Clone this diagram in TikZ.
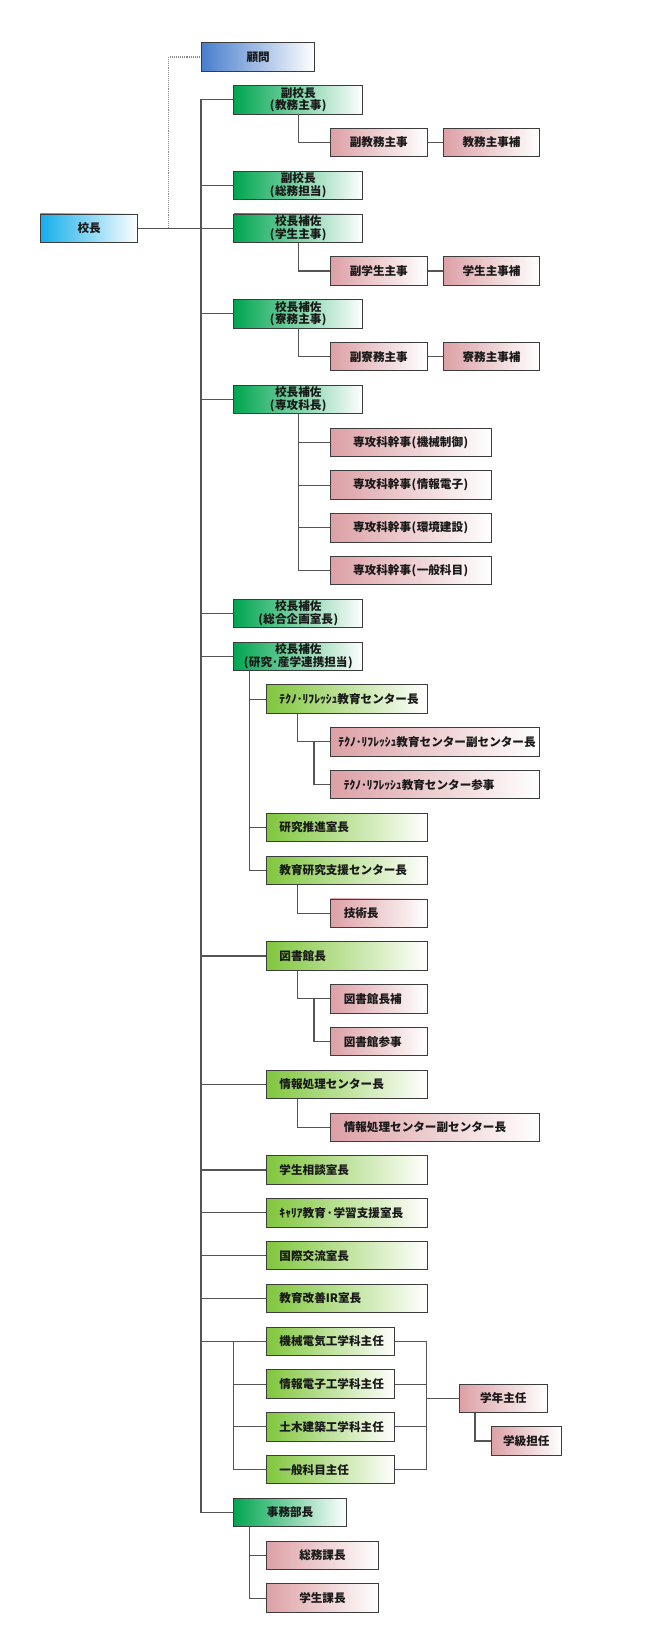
\documentclass[tikz,border=0pt]{standalone}
\usepackage{fontspec}
\setmainfont{Noto Sans CJK JP}
\definecolor{cyanb}{RGB}{20,174,234}
\definecolor{blueb}{RGB}{72,126,204}
\definecolor{dkgreen}{RGB}{0,166,80}
\definecolor{ltgreen}{RGB}{128,198,60}
\definecolor{pinkb}{RGB}{220,160,165}
\definecolor{bordercol}{RGB}{60,60,60}
\definecolor{linecol}{RGB}{85,85,85}
\tikzset{
  box/.style={draw=bordercol, line width=0.9pt, minimum height=28.4pt, inner sep=0pt,
    anchor=north west, right color=white, text=black!90,
    font=\bfseries\fontsize{11.6}{12.6}\selectfont},
  cbox/.style={box, align=center, minimum width=#1},
  lbox/.style={box, align=left, inner xsep=13.3pt, text width=#1-26.6pt},
  kbox/.style={cbox=#1, left color=cyanb},
  bbox/.style={cbox=#1, left color=blueb},
  dgbox/.style={cbox=#1, left color=dkgreen},
  lgbox/.style={lbox=#1, left color=ltgreen},
  pkbox/.style={cbox=#1, left color=pinkb},
  pklbox/.style={lbox=#1, left color=pinkb},
  conn/.style={draw=linecol, line width=1.1pt},
  dotline/.style={draw=gray!90, line width=1.1pt, densely dotted},
}
\newcommand{\T}[1]{42.3+42.81*#1}
\newcommand{\lp}{\kern0.5pt(\kern0.5pt}
\newcommand{\rp}{\kern0.5pt)\kern0.5pt}
\begin{document}
\begin{tikzpicture}[x=1pt,y=-1pt]
\useasboundingbox (0,0) rectangle (660,1633);
% nodes
\node[kbox=97.3pt] (kocho) at (40,{\T{4}}) {校長};
\node[bbox=113.3pt] (komon) at (201,{\T{0}}) {顧問};
\node[dgbox=129pt] (fk1) at (233.3,{\T{1}}) {副校長\\\lp 教務主事\rp};
\node[pkbox=96.7pt] (fk1a) at (330,{\T{2}}) {副教務主事};
\node[pkbox=96.4pt] (fk1b) at (442.9,{\T{2}}) {教務主事補};
\node[dgbox=129pt] (fk2) at (233.3,{\T{3}}) {副校長\\\lp 総務担当\rp};
\node[dgbox=129pt] (h1) at (233.3,{\T{4}}) {校長補佐\\\lp 学生主事\rp};
\node[pkbox=96.7pt] (h1a) at (330,{\T{5}}) {副学生主事};
\node[pkbox=96.4pt] (h1b) at (442.9,{\T{5}}) {学生主事補};
\node[dgbox=129pt] (h2) at (233.3,{\T{6}}) {校長補佐\\\lp 寮務主事\rp};
\node[pkbox=96.7pt] (h2a) at (330,{\T{7}}) {副寮務主事};
\node[pkbox=96.4pt] (h2b) at (442.9,{\T{7}}) {寮務主事補};
\node[dgbox=129pt] (h3) at (233.3,{\T{8}}) {校長補佐\\\lp 専攻科長\rp};
\node[pkbox=161pt] (s1) at (330,{\T{9}}) {専攻科幹事\lp 機械制御\rp};
\node[pkbox=161pt] (s2) at (330,{\T{10}}) {専攻科幹事\lp 情報電子\rp};
\node[pkbox=161pt] (s3) at (330,{\T{11}}) {専攻科幹事\lp 環境建設\rp};
\node[pkbox=161pt] (s4) at (330,{\T{12}}) {専攻科幹事\lp 一般科目\rp};
\node[dgbox=129pt] (h4) at (233.3,{\T{13}}) {校長補佐\\\lp 総合企画室長\rp};
\node[dgbox=129pt] (h5) at (233.3,{\T{14}}) {校長補佐\\\lp 研究･産学連携担当\rp};
\node[lgbox=161pt] (tr) at (265.7,{\T{15}}) {ﾃｸﾉ･ﾘﾌﾚｯｼｭ教育センター長};
\node[pklbox=209.3pt, inner xsep=8pt, text width=193.3pt] (tra) at (330,{\T{16}}) {ﾃｸﾉ･ﾘﾌﾚｯｼｭ教育センター副センター長};
\node[pklbox=209.3pt] (trb) at (330,{\T{17}}) {ﾃｸﾉ･ﾘﾌﾚｯｼｭ教育センター参事};
\node[lgbox=161pt] (kk) at (265.7,{\T{18}}) {研究推進室長};
\node[lgbox=161pt] (ks) at (265.7,{\T{19}}) {教育研究支援センター長};
\node[pklbox=96.7pt] (ksa) at (330,{\T{20}}) {技術長};
\node[lgbox=161pt] (tb) at (265.7,{\T{21}}) {図書館長};
\node[pklbox=96.7pt] (tba) at (330,{\T{22}}) {図書館長補};
\node[pklbox=96.7pt] (tbb) at (330,{\T{23}}) {図書館参事};
\node[lgbox=161pt] (jh) at (265.7,{\T{24}}) {情報処理センター長};
\node[pklbox=209.3pt] (jha) at (330,{\T{25}}) {情報処理センター副センター長};
\node[lgbox=161pt] (gs) at (265.7,{\T{26}}) {学生相談室長};
\node[lgbox=161pt] (cr) at (265.7,{\T{27}}) {ｷｬﾘｱ教育\kern1pt･\kern1pt 学習支援室長};
\node[lgbox=161pt] (kr) at (265.7,{\T{28}}) {国際交流室長};
\node[lgbox=161pt] (ir) at (265.7,{\T{29}}) {教育改善IR室長};
\node[lgbox=128.6pt] (d1) at (265.7,{\T{30}}) {機械電気工学科主任};
\node[lgbox=128.6pt] (d2) at (265.7,{\T{31}}) {情報電子工学科主任};
\node[lgbox=128.6pt] (d3) at (265.7,{\T{32}}) {土木建築工学科主任};
\node[lgbox=128.6pt] (d4) at (265.7,{\T{33}}) {一般科目主任};
\node[pkbox=87.7pt] (gn) at (459,1383.7) {学年主任};
\node[pkbox=70.3pt] (gk) at (490.7,1426.3) {学級担任};
\node[dgbox=112.7pt] (jm) at (233.3,{\T{34}}) {事務部長};
\node[pkbox=112.6pt] (jma) at (265.7,{\T{35}}) {総務課長};
\node[pkbox=112.6pt] (jmb) at (265.7,{\T{36}}) {学生課長};
% helper coordinates
\coordinate (trunkx) at (201,0);
\coordinate (dotx) at (168.7,0);
\coordinate (dx) at (233.3,0);
\coordinate (rx) at (426.7,0);
\coordinate (h5x) at ([xshift=16pt]h5.south west);
\coordinate (trx) at ([xshift=32pt]tr.south west);
\coordinate (trx2) at ([xshift=-16pt]tra.west);
\coordinate (ksx) at ([xshift=32pt]ks.south west);
\coordinate (tbx) at ([xshift=32pt]tb.south west);
\coordinate (tbx2) at ([xshift=-16pt]tba.west);
\coordinate (jhx) at ([xshift=32pt]jh.south west);
\coordinate (gnx) at ([xshift=16pt]gn.south west);
\coordinate (jmx) at ([xshift=16pt]jm.south west);
% connectors
\draw[dotline] (kocho.east -| dotx) |- (komon.west);
\draw[conn] (kocho.east) -- (h1.west);
\draw[conn] (fk1.west) -- (fk1.west -| trunkx) -- (jm.west -| trunkx) -- (jm.west);
\foreach \n in {fk2,h2,h3,h4,h5}{\draw[conn] (\n.west -| trunkx) -- (\n.west);}
\foreach \n in {tb,jh,gs,cr,kr,ir,d1}{\draw[conn] (\n.west -| trunkx) -- (\n.west);}
\draw[conn] (fk1.south) |- (fk1a.west);
\draw[conn] (fk1a.east) -- (fk1b.west);
\draw[conn] (h1.south) |- (h1a.west);
\draw[conn] (h1a.east) -- (h1b.west);
\draw[conn] (h2.south) |- (h2a.west);
\draw[conn] (h2a.east) -- (h2b.west);
\draw[conn] (h3.south) |- (s4.west);
\foreach \n in {s1,s2,s3}{\draw[conn] (\n.west -| h3.south) -- (\n.west);}
\draw[conn] (h5x) |- (ks.west);
\foreach \n in {tr,kk}{\draw[conn] (\n.west -| h5x) -- (\n.west);}
\draw[conn] (trx) |- (tra.west);
\draw[conn] (trx2) |- (trb.west);
\draw[conn] (ksx) |- (ksa.west);
\draw[conn] (tbx) |- (tba.west);
\draw[conn] (tbx2) |- (tbb.west);
\draw[conn] (jhx) |- (jha.west);
\draw[conn] (d1.west -| dx) |- (d4.west);
\foreach \n in {d2,d3}{\draw[conn] (\n.west -| dx) -- (\n.west);}
\draw[conn] (d1.east) -- (d1.east -| rx) -- (d4.east -| rx) -- (d4.east);
\foreach \n in {d2,d3}{\draw[conn] (\n.east) -- (\n.east -| rx);}
\draw[conn] (gn.west -| rx) -- (gn.west);
\draw[conn] (gnx) |- (gk.west);
\draw[conn] (jmx) |- (jmb.west);
\draw[conn] (jma.west -| jmx) -- (jma.west);
\end{tikzpicture}
\end{document}
